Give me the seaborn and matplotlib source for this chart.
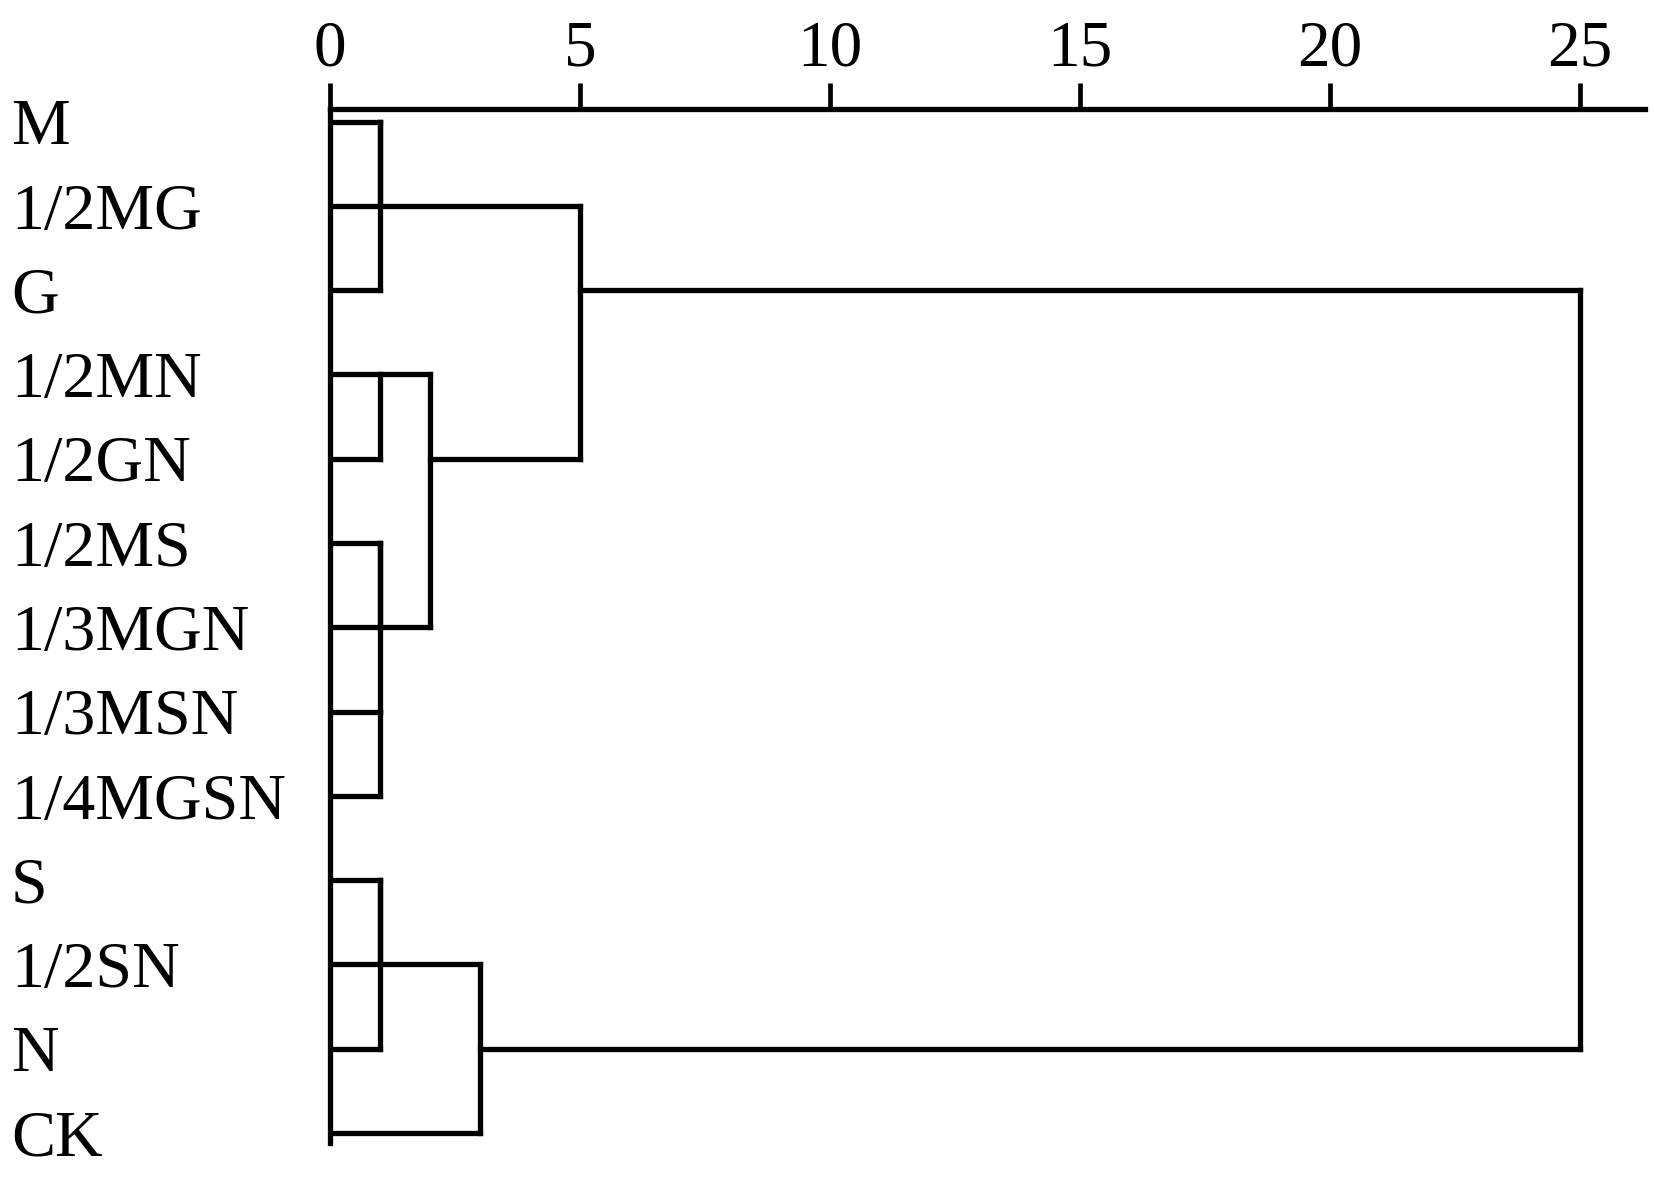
import matplotlib
matplotlib.use("Agg")
import matplotlib.pyplot as plt
import seaborn as sns
import pandas as pd

# ---- data ----
labels = ["M", "1/2MG", "G", "1/2MN", "1/2GN", "1/2MS", "1/3MGN",
          "1/3MSN", "1/4MGSN", "S", "1/2SN", "N", "CK"]
# merges (scipy-linkage style: ids >= len(labels) are earlier merges)
merge_a = [0, 13, 3, 5, 7, 16, 15, 14, 9, 21, 22, 20]
merge_b = [1, 2, 4, 6, 8, 17, 18, 19, 10, 11, 12, 23]
merge_h = [1, 1, 1, 1, 1, 1, 2, 5, 1, 1, 3, 25]
xticks = [0, 5, 10, 15, 20, 25]

# ---- build dendrogram segments (SPSS style) ----
n = len(labels)
row = {i: i for i in range(n)}
height = {i: 0 for i in range(n)}
recs = []
seg = 0
for k, (a, b, h) in enumerate(zip(merge_a, merge_b, merge_h)):
    node = n + k
    for c in (a, b):
        recs += [(seg, height[c], row[c]), (seg, h, row[c])]
        seg += 1
    recs += [(seg, h, row[a]), (seg, h, row[b])]
    seg += 1
    row[node] = (row[a] + row[b]) // 2
    height[node] = h
df = pd.DataFrame(recs, columns=["seg", "x", "y"])

# ---- plot ----
sns.set_theme(style="white")
plt.rcParams["font.family"] = ["Liberation Serif", "DejaVu Serif"]

W, H = 1654, 1181
fig = plt.figure(figsize=(W / 100, H / 100), dpi=100)
ax = fig.add_axes([330 / W, 1 - 1143 / H, (1645 - 330) / W, (1143 - 109) / H])

sns.lineplot(data=df, x="x", y="y", units="seg", estimator=None, sort=False,
             color="black", lw=3.8, solid_capstyle="projecting",
             legend=False, ax=ax)

ax.set_xlim(0, (1645 - 330) / 50)
ax.set_ylim(12.12, -0.15)
ax.set_xlabel("")
ax.set_ylabel("")

ax.xaxis.tick_top()
ax.set_xticks(xticks)
ax.set_xticklabels([str(t) for t in xticks])
ax.tick_params(axis="x", which="major", direction="out", length=19, width=3.4,
               pad=2, labelsize=47, color="black", labelcolor="black")

ax.set_yticks(range(n))
ax.set_yticklabels(labels)
ax.tick_params(axis="y", length=0, pad=(330 - 11) * 0.72, labelsize=47.5,
               labelcolor="black")
for t in ax.get_yticklabels():
    t.set_ha("left")

for s in ["right", "bottom"]:
    ax.spines[s].set_visible(False)
for s in ["top", "left"]:
    ax.spines[s].set_visible(True)
    ax.spines[s].set_color("black")
    ax.spines[s].set_linewidth(3.8)
    ax.spines[s].set_capstyle("projecting")

fig.savefig("out.png", dpi=100, facecolor="white")
